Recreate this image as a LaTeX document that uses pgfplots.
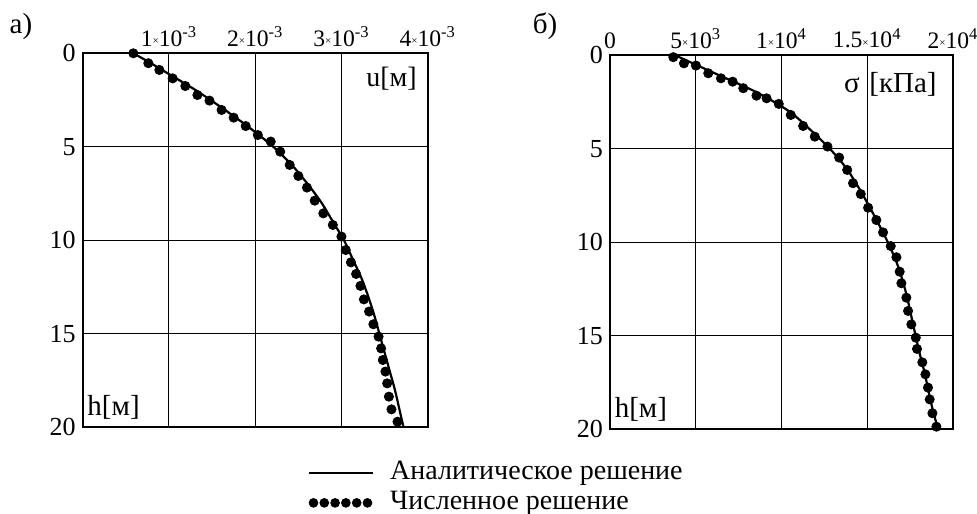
\documentclass[border=0pt]{standalone}
\usepackage{pgfplots}
\pgfplotsset{compat=1.18}
\usepackage{fontspec}
\setmainfont{Liberation Serif}

\newcommand{\tx}{{\fontsize{5.5}{5.5}\selectfont\raisebox{0.3ex}{×}}}

\begin{document}
\begin{tikzpicture}[x=1pt,y=1pt]
\useasboundingbox (-41.35,-42.85) rectangle (447.15,213.65);
\pgfplotsset{
  myax/.style={
    scale only axis, height=187pt,
    y dir=reverse, ymin=0, ymax=20, ytick={0,5,10,15,20},
    grid=major, major grid style={black, line width=0.5pt},
    axis line style={line width=1pt}, tick style={draw=none},
    xticklabel pos=upper,
    yticklabel style={font=\fontsize{13}{13}\selectfont},
    xticklabel style={font=\fontsize{11.8}{12}\selectfont},
    /pgf/number format/assume math mode=true,
    clip=false,
  },
  anline/.style={black, line width=1.1pt, smooth, no marks},
  numdots/.style={only marks, mark=*, mark size=2.3pt, mark options={fill=black, draw=black}},
}
\begin{axis}[myax, width=172.5pt, at={(0pt,0pt)}, anchor=south west,
  xmin=0, xmax=4, xtick={1,2,3,4},
  xticklabels={1\tx10\textsuperscript{-3}, 2\tx10\textsuperscript{-3}, 3\tx10\textsuperscript{-3}, 4\tx10\textsuperscript{-3}},
  legend style={at={(0.653,-0.086)}, anchor=north west, draw=none, fill=none, inner sep=0pt,
    font=\fontsize{14}{15}\selectfont, row sep=2pt,
    nodes={inner sep=0pt, text height=10pt, text depth=3pt},
    /tikz/every odd column/.append style={column sep=7.8pt}},
  legend cell align=left,
]
\addplot[anline, legend image code/.code={\draw[black, line width=1.1pt] (0pt,0pt) -- (32pt,0pt);}] coordinates {
(0.587,0) (0.78,0.5) (0.96,1) (1.32,2) (1.64,3) (1.94,4) (2.21,5) (2.43,6) (2.61,7) (2.77,8) (2.90,9)
(3.03,10) (3.13,11) (3.23,12) (3.31,13) (3.38,14) (3.44,15) (3.50,16) (3.56,17) (3.62,18) (3.67,19) (3.72,20)
};
\addlegendentry{Аналитическое решение}
\addplot[numdots, legend image code/.code={\foreach \i in {0,...,5}{\fill[black] (2pt+\i*5.4pt,0pt) circle (2.2pt);}}] coordinates {
(0.587,0) (0.761,0.53) (0.889,0.89) (1.043,1.34) (1.19,1.75) (1.33,2.23) (1.47,2.53) (1.61,3.03)
(1.75,3.44) (1.89,3.89) (2.03,4.37) (2.18,4.72) (2.29,5.26) (2.40,5.97) (2.50,6.56) (2.60,7.18)
(2.69,7.88) (2.79,8.56) (2.90,9.18) (3.00,9.80) (3.05,10.52) (3.11,11.18) (3.17,11.80) (3.22,12.44)
(3.26,13.16) (3.32,13.81) (3.37,14.49) (3.43,15.15) (3.46,15.78) (3.48,16.40) (3.51,17.02)
(3.53,17.65) (3.55,18.36) (3.58,19.04) (3.65,19.70)
};
\addlegendentry{Численное решение}
\node[anchor=north east, inner sep=0pt, font=\fontsize{14}{14}\selectfont] at (rel axis cs:1,1) [xshift=-5.3pt, yshift=-6.5pt] {u[м]};
\node[anchor=south west, inner sep=0pt, font=\fontsize{14.5}{14}\selectfont] at (rel axis cs:0,0) [xshift=2.2pt, yshift=3.6pt] {h[м]};
\end{axis}

\begin{axis}[myax, width=171.5pt, at={(263.65pt,-1pt)}, anchor=south west,
  xmin=0, xmax=20, xtick={0,5,10,15,20},
  xticklabels={0, 5\tx10\textsuperscript{3}, 1\tx10\textsuperscript{4}, 1.5\tx10\textsuperscript{4}, 2\tx10\textsuperscript{4}},
]
\addplot[anline] coordinates {
(3.8,0) (5.0,0.5) (6.2,1) (8.6,2) (10.45,3) (11.7,4) (12.82,5) (13.75,6) (14.45,7) (15.07,8) (15.65,9)
(16.2,10) (16.68,11) (17.05,12) (17.34,13) (17.58,14) (17.82,15) (18.07,16) (18.35,17) (18.58,18) (18.83,19) (19.13,20)
};
\addplot[numdots] coordinates {
(3.69,0.1) (4.31,0.43) (5.01,0.55) (5.73,0.96) (6.47,1.23) (7.15,1.41) (7.77,1.76) (8.54,2.16)
(9.13,2.30) (9.84,2.60) (10.54,3.19) (11.26,3.78) (11.94,4.35) (12.68,4.88) (13.36,5.47) (13.83,6.13)
(14.17,6.84) (14.62,7.42) (15.05,8.15) (15.53,8.81) (15.92,9.47) (16.37,10.20) (16.70,10.80)
(16.89,11.57) (16.99,12.19) (17.28,12.96) (17.38,13.67) (17.57,14.39) (17.83,15.10) (17.90,15.70)
(18.21,16.42) (18.39,17.06) (18.54,17.77) (18.64,18.40) (18.80,19.14) (19.03,19.86)
};
\node[anchor=north east, inner sep=0pt, font=\fontsize{14.5}{14}\selectfont] at (rel axis cs:1,1) [xshift=-8pt, yshift=-8.5pt] {σ\,\,[кПа]};
\node[anchor=south west, inner sep=0pt, font=\fontsize{14.5}{14}\selectfont] at (rel axis cs:0,0) [xshift=2.2pt, yshift=4pt] {h[м]};
\end{axis}

\node[font=\fontsize{14.5}{14}\selectfont] at (-30.85,200.15) {а)};
\node[font=\fontsize{14.5}{14}\selectfont] at (231.15,200.65) {б)};
\end{tikzpicture}
\end{document}
